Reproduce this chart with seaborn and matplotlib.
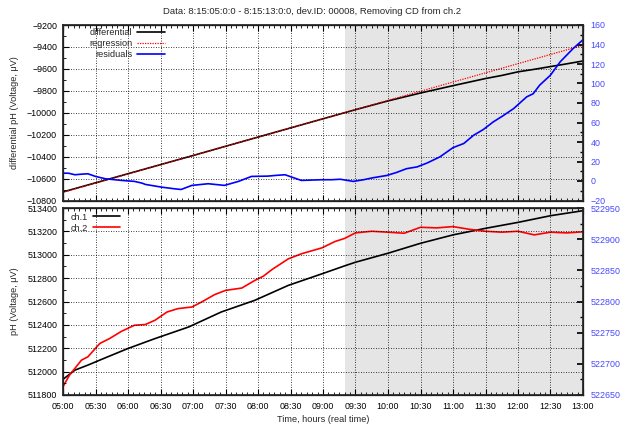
import matplotlib
matplotlib.use("Agg")
import matplotlib.pyplot as plt
import matplotlib.dates as mdates
from matplotlib.ticker import MultipleLocator, AutoMinorLocator
import seaborn as sns
import pandas as pd

sns.set_theme(style="white")
plt.rcParams['font.family'] = ['Liberation Sans', 'DejaVu Sans']

DAY = "2015-08-15 "

# ---------- top panel data ----------
diff_times = ["05:00", "06:00", "07:00", "08:00", "09:00", "09:30", "10:00", "10:30",
              "11:00", "11:30", "11:45", "12:00", "12:15", "12:30", "12:45", "13:00"]
diff_vals = [-10722, -10556, -10390, -10222, -10055, -9972, -9892, -9820,
             -9753, -9688, -9660, -9627, -9604, -9579, -9554, -9528]

reg_times = ["05:00", "13:00"]
reg_vals = [-10725, -9385]

res_times = ["05:00", "05:05", "05:11", "05:17", "05:23", "05:30", "05:39", "05:54",
             "06:06", "06:13", "06:16", "06:31", "06:43", "06:49", "06:59", "07:14",
             "07:29", "07:42", "07:54", "08:09", "08:17", "08:25", "08:34", "08:40",
             "08:59", "09:08", "09:16", "09:28", "09:37", "09:46", "09:59", "10:08",
             "10:17", "10:27", "10:36", "10:48", "11:00", "11:10", "11:19", "11:28",
             "11:37", "11:46", "11:56", "12:08", "12:14", "12:20", "12:30", "12:39",
             "12:51", "12:59", "13:00"]
res_vals = [8, 8, 6.4, 7, 7.4, 4.7, 2.3, 0.6,
            -0.4, -2.2, -3.5, -6.3, -8, -8.7, -4.5, -2.8,
            -4.5, -0.4, 4.7, 5, 5.8, 6.4, 2.9, 0.6,
            1.3, 1.3, 1.8, -0.4, 1.2, 3.3, 5.7, 8.8,
            12.6, 14.5, 18.4, 24.8, 34.2, 38.5, 46.9, 52.8,
            60.5, 66.8, 74.3, 86.3, 89.5, 98.3, 108.6, 122.3,
            136, 143.9, 145]

# ---------- bottom panel data ----------
ch1_times = ["05:00", "05:11", "05:23", "05:39", "06:00", "06:25", "06:56", "07:26",
             "07:57", "08:28", "09:00", "09:20", "09:30", "10:00", "10:30", "11:00",
             "11:30", "12:00", "12:30", "13:00"]
ch1_vals = [511934, 512013, 512056, 512118, 512198, 512283, 512382, 512510,
            512610, 512738, 512840, 512905, 512936, 513013, 513098, 513170,
            513226, 513277, 513334, 513377]

ch2_times = ["05:00", "05:06", "05:17", "05:23", "05:34", "05:43", "05:54", "06:06",
             "06:16", "06:25", "06:36", "06:46", "06:59", "07:08", "07:20", "07:30",
             "07:45", "07:57", "08:05", "08:13", "08:28", "08:40", "08:59", "09:11",
             "09:20", "09:30", "09:45", "10:00", "10:15", "10:30", "10:45", "11:00",
             "11:15", "11:30", "11:45", "12:00", "12:15", "12:30", "12:45", "13:00"]
ch2_vals = [511871, 511970, 512098, 512127, 512241, 512283, 512345, 512397,
            512403, 512440, 512510, 512539, 512553, 512596, 512659, 512695,
            512715, 512780, 512817, 512874, 512965, 513008, 513059, 513113,
            513140, 513187, 513201, 513193, 513184, 513235, 513230, 513241,
            513218, 513201, 513193, 513201, 513170, 513193, 513187, 513196]

title = "Data: 8:15:05:0:0 - 8:15:13:0:0, dev.ID: 00008, Removing CD from ch.2"
shade_start, shade_end = "09:20", "13:00"


def ts(lst):
    return pd.to_datetime([DAY + t for t in lst])


df_diff = pd.DataFrame({"t": ts(diff_times), "v": diff_vals})
df_reg = pd.DataFrame({"t": ts(reg_times), "v": reg_vals})
df_res = pd.DataFrame({"t": ts(res_times), "v": res_vals})
df_ch1 = pd.DataFrame({"t": ts(ch1_times), "v": ch1_vals})
df_ch2 = pd.DataFrame({"t": ts(ch2_times), "v": ch2_vals})

fig = plt.figure(figsize=(6.25, 4.32), dpi=100)
W, H = 625, 432
x0, x1 = 63, 583
ax1 = fig.add_axes([x0 / W, 1 - 200.5 / H, (x1 - x0) / W, 175.5 / H])
ax2 = fig.add_axes([x0 / W, 1 - 395 / H, (x1 - x0) / W, (395 - 208) / H])

blue_lab = "#4848ff"
fs = 6.4
lfs = 6.6
xlim = (pd.Timestamp(DAY + "05:00"), pd.Timestamp(DAY + "13:00"))

for ax in (ax1, ax2):
    ax.axvspan(pd.Timestamp(DAY + shade_start), pd.Timestamp(DAY + shade_end),
               color="#e5e5e5", zorder=0, lw=0)
    ax.set_xlim(*xlim)
    ax.xaxis.set_major_locator(mdates.MinuteLocator(byminute=[0, 30]))
    ax.xaxis.set_minor_locator(mdates.MinuteLocator(byminute=range(0, 60, 5)))
    ax.xaxis.set_major_formatter(mdates.DateFormatter("%H:%M"))
    ax.grid(True, which="major", color="black", linestyle=(0, (1, 2)), linewidth=0.6)
    ax.set_axisbelow(False)
    for s in ax.spines.values():
        s.set_color("black")
        s.set_linewidth(0.9)
    ax.tick_params(axis="both", which="both", direction="in", top=True, bottom=True,
                   left=True, right=False, labelsize=fs, colors="black")
    ax.tick_params(axis="y", pad=4.2)
    ax.tick_params(axis="x", pad=5)
    ax.tick_params(which="major", length=4, width=0.8)
    ax.tick_params(which="minor", length=2, width=0.6)

# top panel
sns.lineplot(data=df_diff, x="t", y="v", ax=ax1, color="black", lw=1.2, label="differential")
sns.lineplot(data=df_reg, x="t", y="v", ax=ax1, color="red", lw=0.9, ls=(0, (1, 1)),
             label="regression")
ax1.set_ylim(-10800, -9200)
ax1.yaxis.set_major_locator(MultipleLocator(200))
ax1.yaxis.set_minor_locator(AutoMinorLocator(2))
ax1.set_xlabel("")
ax1.tick_params(axis="x", labelbottom=False)
ax1.set_ylabel("differential pH (Voltage, μV)", fontsize=lfs, labelpad=6)

ax1r = ax1.twinx()
sns.lineplot(data=df_res, x="t", y="v", ax=ax1r, color="blue", lw=1.2, label="residuals")
ax1r.set_ylim(-20, 160)
ax1r.yaxis.set_major_locator(MultipleLocator(20))
ax1r.yaxis.set_minor_locator(AutoMinorLocator(2))
ax1r.set_ylabel("")
ax1r.set_xlim(*xlim)
ax1r.grid(False)
ax1r.tick_params(axis="y", which="both", direction="in", labelsize=fs, labelcolor=blue_lab,
                 color="black", pad=5.5)
ax1r.tick_params(which="major", length=4)
ax1r.tick_params(which="minor", length=2)
ax1r.set_xlabel("")
ax1r.tick_params(axis="x", labelbottom=False)

h1, l1 = ax1.get_legend_handles_labels()
h2, l2 = ax1r.get_legend_handles_labels()
ax1.get_legend().remove()
ax1r.get_legend().remove()
ax1r.legend(h1 + h2, l1 + l2, loc="upper left", bbox_to_anchor=(0.04, 1.015), frameon=False,
            fontsize=lfs, markerfirst=False, handlelength=3.0, labelspacing=0.22,
            borderaxespad=0.2, handletextpad=0.5)

# bottom panel
sns.lineplot(data=df_ch1, x="t", y="v", ax=ax2, color="black", lw=1.2, label="ch.1")
sns.lineplot(data=df_ch2, x="t", y="v", ax=ax2, color="red", lw=1.2, label="ch.2")
ax2.set_ylim(511800, 513400)
ax2.yaxis.set_major_locator(MultipleLocator(200))
ax2.yaxis.set_minor_locator(AutoMinorLocator(2))
ax2.set_ylabel("pH (Voltage, μV)", fontsize=lfs, labelpad=6)
ax2.set_xlabel("Time, hours (real time)", fontsize=lfs, labelpad=3)
ax2.legend(loc="upper left", bbox_to_anchor=(0.005, 1.005), frameon=False, fontsize=lfs,
           markerfirst=False, handlelength=3.0, labelspacing=0.22, borderaxespad=0.2,
           handletextpad=0.5)

ax2r = ax2.twinx()
ax2r.set_ylim(522650, 522950)
ax2r.yaxis.set_major_locator(MultipleLocator(50))
ax2r.yaxis.set_minor_locator(AutoMinorLocator(2))
ax2r.grid(False)
ax2r.tick_params(axis="y", which="both", direction="in", labelsize=fs, labelcolor=blue_lab,
                 color="black", pad=5.5)
ax2r.tick_params(which="major", length=4)
ax2r.tick_params(which="minor", length=2)

for ax in (ax1, ax2, ax2r):
    ax.ticklabel_format(axis="y", style="plain", useOffset=False)

fig.text(0.5, 1 - 12 / H, title, ha="center", va="center", fontsize=6.8)

fig.savefig("out.png", dpi=100)
